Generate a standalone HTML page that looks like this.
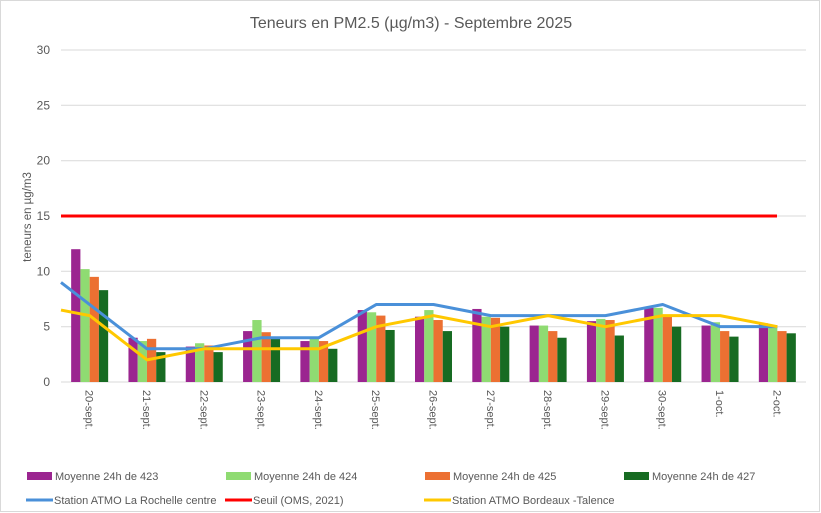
<!DOCTYPE html>
<html><head><meta charset="utf-8"><style>
html,body{margin:0;padding:0;background:#fff;}
svg{display:block;font-family:"Liberation Sans",sans-serif;}
</style></head><body>
<svg width="821" height="513" viewBox="0 0 821 513">
<rect x="0.5" y="0.5" width="819" height="511" fill="#fff" stroke="#d9d9d9"/>
<text x="411" y="28" font-size="16" fill="#595959" text-anchor="middle">Teneurs en PM2.5 (µg/m3) - Septembre 2025</text>
<g stroke="#d9d9d9" stroke-width="1">
<line x1="61" x2="806" y1="50" y2="50"/><line x1="61" x2="806" y1="105.3" y2="105.3"/>
<line x1="61" x2="806" y1="160.7" y2="160.7"/><line x1="61" x2="806" y1="216" y2="216"/>
<line x1="61" x2="806" y1="271.3" y2="271.3"/><line x1="61" x2="806" y1="326.7" y2="326.7"/>
<line x1="61" x2="806" y1="382" y2="382"/>
</g>
<g font-size="12" fill="#595959" text-anchor="end">
<text x="50" y="54">30</text><text x="50" y="109.3">25</text><text x="50" y="164.7">20</text>
<text x="50" y="220">15</text><text x="50" y="275.3">10</text><text x="50" y="330.7">5</text><text x="50" y="386">0</text>
</g>
<text transform="translate(31,217) rotate(-90)" font-size="11.5" fill="#595959" text-anchor="middle">teneurs en µg/m3</text>
<g id="bars"></g>
<g id="xl" font-size="11" fill="#595959"></g>
<line x1="61" x2="777" y1="216" y2="216" stroke="#ff0000" stroke-width="3"/>
<polyline id="blue" fill="none" stroke="#4a90d9" stroke-width="3" stroke-linejoin="round"/>
<polyline id="yel" fill="none" stroke="#ffc800" stroke-width="3" stroke-linejoin="round"/>
<g font-size="11" fill="#595959">
<rect x="27" y="472" width="25" height="8" fill="#9b2590"/><text x="55" y="480">Moyenne 24h de 423</text>
<rect x="226" y="472" width="25" height="8" fill="#8fdb72"/><text x="254" y="480">Moyenne 24h de 424</text>
<rect x="425" y="472" width="25" height="8" fill="#ec7032"/><text x="453" y="480">Moyenne 24h de 425</text>
<rect x="624" y="472" width="25" height="8" fill="#176b22"/><text x="652" y="480">Moyenne 24h de 427</text>
<line x1="26" x2="53" y1="500" y2="500" stroke="#4a90d9" stroke-width="3"/><text x="54" y="504">Station ATMO La Rochelle centre</text>
<line x1="225" x2="252" y1="500" y2="500" stroke="#ff0000" stroke-width="3"/><text x="253" y="504">Seuil (OMS, 2021)</text>
<line x1="424" x2="451" y1="500" y2="500" stroke="#ffc800" stroke-width="3"/><text x="452" y="504">Station ATMO Bordeaux -Talence</text>
</g>
<script>
var ns="http://www.w3.org/2000/svg";
function Y(v){return 382-v*11.067;}
var labs=["20-sept.","21-sept.","22-sept.","23-sept.","24-sept.","25-sept.","26-sept.","27-sept.","28-sept.","29-sept.","30-sept.","1-oct.","2-oct."];
var d=[[12,10.2,9.5,8.3],[4.0,3.7,3.9,2.7],[3.2,3.5,3.3,2.7],[4.6,5.6,4.5,3.9],[3.7,4.1,3.7,3.0],[6.5,6.3,6.0,4.7],[5.9,6.5,5.6,4.6],[6.6,5.9,5.8,5.0],[5.1,5.1,4.6,4.0],[5.5,5.7,5.6,4.2],[6.7,6.7,5.9,5.0],[5.1,5.4,4.6,4.1],[5.3,5.0,4.6,4.4]];
var cols=["#9b2590","#8fdb72","#ec7032","#176b22"];
var bl=[7,3,3,4,4,7,7,6,6,6,7,5,5],ye=[6,2,3,3,3,5,6,5,6,5,6,6,5];
var W=745/13,g=document.getElementById("bars"),xl=document.getElementById("xl");
var bp="61,"+Y(9)+" ",yp="61,"+Y(6.5)+" ";
for(var i=0;i<13;i++){var c=61+W*(i+0.5);
for(var k=0;k<4;k++){var r=document.createElementNS(ns,"rect");var v=d[i][k];
r.setAttribute("x",c-18.5+k*9.25);r.setAttribute("width",9.25);r.setAttribute("y",Y(v));r.setAttribute("height",382-Y(v));r.setAttribute("fill",cols[k]);g.appendChild(r);}
var t=document.createElementNS(ns,"text");t.setAttribute("transform","translate("+(c-4)+",390) rotate(90)");t.textContent=labs[i];xl.appendChild(t);
if(i>0)bp+=c+","+Y(bl[i])+" ";yp+=c+","+Y(ye[i])+" ";}
document.getElementById("blue").setAttribute("points",bp);
document.getElementById("yel").setAttribute("points",yp);
</script>
</svg>
</body></html>
